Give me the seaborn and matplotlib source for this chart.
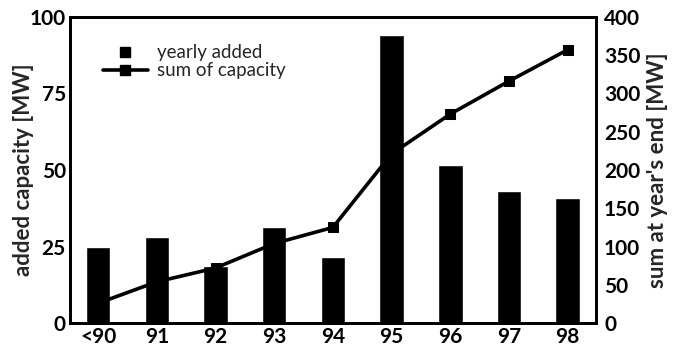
import matplotlib
matplotlib.use("Agg")
import matplotlib.pyplot as plt
import seaborn as sns
import pandas as pd
from matplotlib.lines import Line2D

years = ["<90", "91", "92", "93", "94", "95", "96", "97", "98"]
yearly_added = [25, 28, 18.5, 31.5, 21.5, 94, 51.5, 43, 41]
sum_capacity = [26, 54, 72, 104, 125, 221, 273, 316, 357]
left_ticks = [0, 25, 50, 75, 100]
right_ticks = [0, 50, 100, 150, 200, 250, 300, 350, 400]

sns.set_theme(style="white")
plt.rcParams["font.family"] = ["Lato", "DejaVu Sans"]

df = pd.DataFrame({"year": years, "added": yearly_added, "sum": sum_capacity})

fig = plt.figure(figsize=(7.0, 3.52), dpi=100)
ax = fig.add_axes([0.1, 0.082, 0.751, 0.870])

sns.barplot(data=df, x="year", y="added", order=years, color="black",
            width=0.42, saturation=1, ax=ax)
ax.set_ylim(0, 100)
ax.set_xlim(-0.48, 8.48)
ax.set_yticks(left_ticks)
ax.set_yticklabels([str(t) for t in left_ticks], fontsize=15, fontweight="bold")
ax.set_xticks(range(len(years)))
ax.set_xticklabels(years, fontsize=15, fontweight="bold")
ax.set_xlabel("")
ax.set_ylabel("added capacity [MW]", fontsize=16, fontweight="bold")
ax.yaxis.set_label_coords(-0.068, 0.5)
ax.tick_params(axis="both", length=0, pad=3, colors="black")

ax2 = ax.twinx()
sns.lineplot(data=df, x="year", y="sum", color="black", linewidth=2.6,
             marker="s", markersize=7, markeredgecolor="black", ax=ax2)
ax2.set_ylim(0, 400)
ax2.set_yticks(right_ticks)
ax2.set_yticklabels([str(t) for t in right_ticks], fontsize=15, fontweight="bold")
ax2.set_ylabel("sum at year's end [MW]", fontsize=16, fontweight="bold")
ax2.yaxis.set_label_coords(1.098, 0.5)
ax2.tick_params(axis="y", length=0, pad=6, colors="black")
ax2.set_xlim(-0.48, 8.48)

for a in (ax, ax2):
    for s in a.spines.values():
        s.set_color("black")
        s.set_linewidth(2)

handles = [
    Line2D([], [], color="black", marker="s", linestyle="none", markersize=7),
    Line2D([], [], color="black", marker="s", linewidth=2.6, markersize=7),
]
ax2.legend(handles, ["yearly added", "sum of capacity"], loc="upper left",
           bbox_to_anchor=(0.03, 0.965), frameon=False, fontsize=13.5,
           handlelength=2.4, handletextpad=0.5, labelspacing=0.05)

fig.savefig("out.png", dpi=100)
